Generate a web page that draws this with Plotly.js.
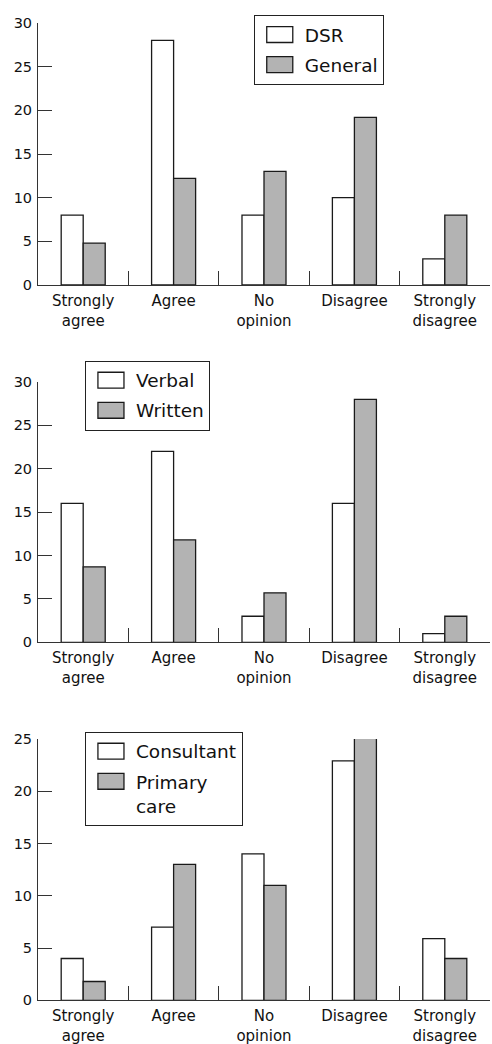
<!DOCTYPE html>
<html><head><meta charset="utf-8">
<script src="https://cdn.plot.ly/plotly-3.0.1.min.js"></script>
<style>
html,body{margin:0;padding:0;background:#fff;}
#chart{width:492px;height:1044px;}
</style></head><body><div id="chart"></div>
<script>
const categories = ["Strongly<br>agree","Agree","No<br>opinion","Disagree","Strongly<br>disagree"];
const dsr = [8, 28, 8, 10, 3];
const general = [4.8, 12.2, 13, 19.2, 8];
const verbal = [16, 22, 3, 16, 1];
const written = [8.7, 11.8, 5.7, 28, 3];
const consultant = [4, 7, 14, 22.9, 5.9];
const primaryCare = [1.8, 13, 11, 25.1, 4];
const panelNames = [["DSR", "General"], ["Verbal", "Written"], ["Consultant", "Primary<br>care"]];
const panelValues = [[dsr, general], [verbal, written], [consultant, primaryCare]];
const yMax = [30, 30, 25];
const yTickVals = [[0,5,10,15,20,25,30],[0,5,10,15,20,25,30],[0,5,10,15,20,25]];

const FONT = "DejaVu Sans";
const fills = ["#ffffff", "#b3b3b3"];
const H = 1044;
const plotLeft = 38, plotW = 492 - 38 - 1.5;
const domains = [[23, 285], [382, 642.3], [739, 1000.3]];
const legendPos = [[254, 15], [85, 360.7], [85, 731.7]];

const traces = [];
const layout = {
  width: 492, height: 1044,
  margin: {l: plotLeft, r: 1.5, t: 0, b: 0},
  paper_bgcolor: "#fff", plot_bgcolor: "#fff",
  barmode: "group", bargap: 0.513, bargroupgap: 0,
  font: {family: FONT, color: "#111"},
  showlegend: true
};
for (let p = 0; p < 3; p++) {
  const s = p === 0 ? "" : String(p + 1);
  for (let k = 0; k < 2; k++) {
    traces.push({
      type: "bar", x: categories, y: panelValues[p][k], name: panelNames[p][k],
      xaxis: "x" + s, yaxis: "y" + s, legend: "legend" + s,
      legendgroup: "g" + p + k, cliponaxis: false,
      marker: {color: fills[k], line: {color: "#1a1a1a", width: 1.3}},
      hoverinfo: "skip"
    });
  }
  layout["xaxis" + s] = {
    type: "category", anchor: "y" + s, domain: [0, 1],
    tickson: "boundaries", ticks: "inside", ticklen: 14, tickwidth: 1, tickcolor: "#333",
    showline: true, linecolor: "#333", linewidth: 1, showgrid: false, zeroline: false,
    ticklabelstandoff: 2,
    tickfont: {family: FONT, size: 15, color: "#111"}, fixedrange: true
  };
  layout["yaxis" + s] = {
    anchor: "x" + s, domain: [1 - domains[p][1] / H, 1 - domains[p][0] / H],
    range: [0, yMax[p]], tickvals: yTickVals[p], ticks: "inside", ticklen: 14, tickwidth: 1, tickcolor: "#333",
    showline: true, linecolor: "#333", linewidth: 1, showgrid: false, zeroline: false,
    ticklabelstandoff: 2,
    tickfont: {family: FONT, size: 14.5, color: "#111"}, fixedrange: true
  };
  layout["legend" + s] = {
    x: (legendPos[p][0] - plotLeft) / plotW, xanchor: "left",
    y: 1 - legendPos[p][1] / H, yanchor: "top",
    bgcolor: "#fff", bordercolor: "#222", borderwidth: 1,
    font: {family: FONT, size: 18.5, color: "#111"},
    itemwidth: 40, tracegroupgap: 3, valign: "top", traceorder: "grouped"
  };
}
Plotly.newPlot("chart", traces, layout, {displayModeBar: false, staticPlot: true}).then(function (gd) {
  gd.querySelectorAll(".legendpoints path").forEach(function (el) {
    const t = el.getAttribute("transform") || "";
    const m = /translate\(\s*([-\d.e]+)[\s,]*([-\d.e]*)\s*\)/.exec(t);
    const ty = m && m[2] ? parseFloat(m[2]) : 0;
    el.setAttribute("transform", "translate(25," + ty + ") scale(2.17,1.33)");
    el.style.vectorEffect = "non-scaling-stroke";
  });
});
</script></body></html>
